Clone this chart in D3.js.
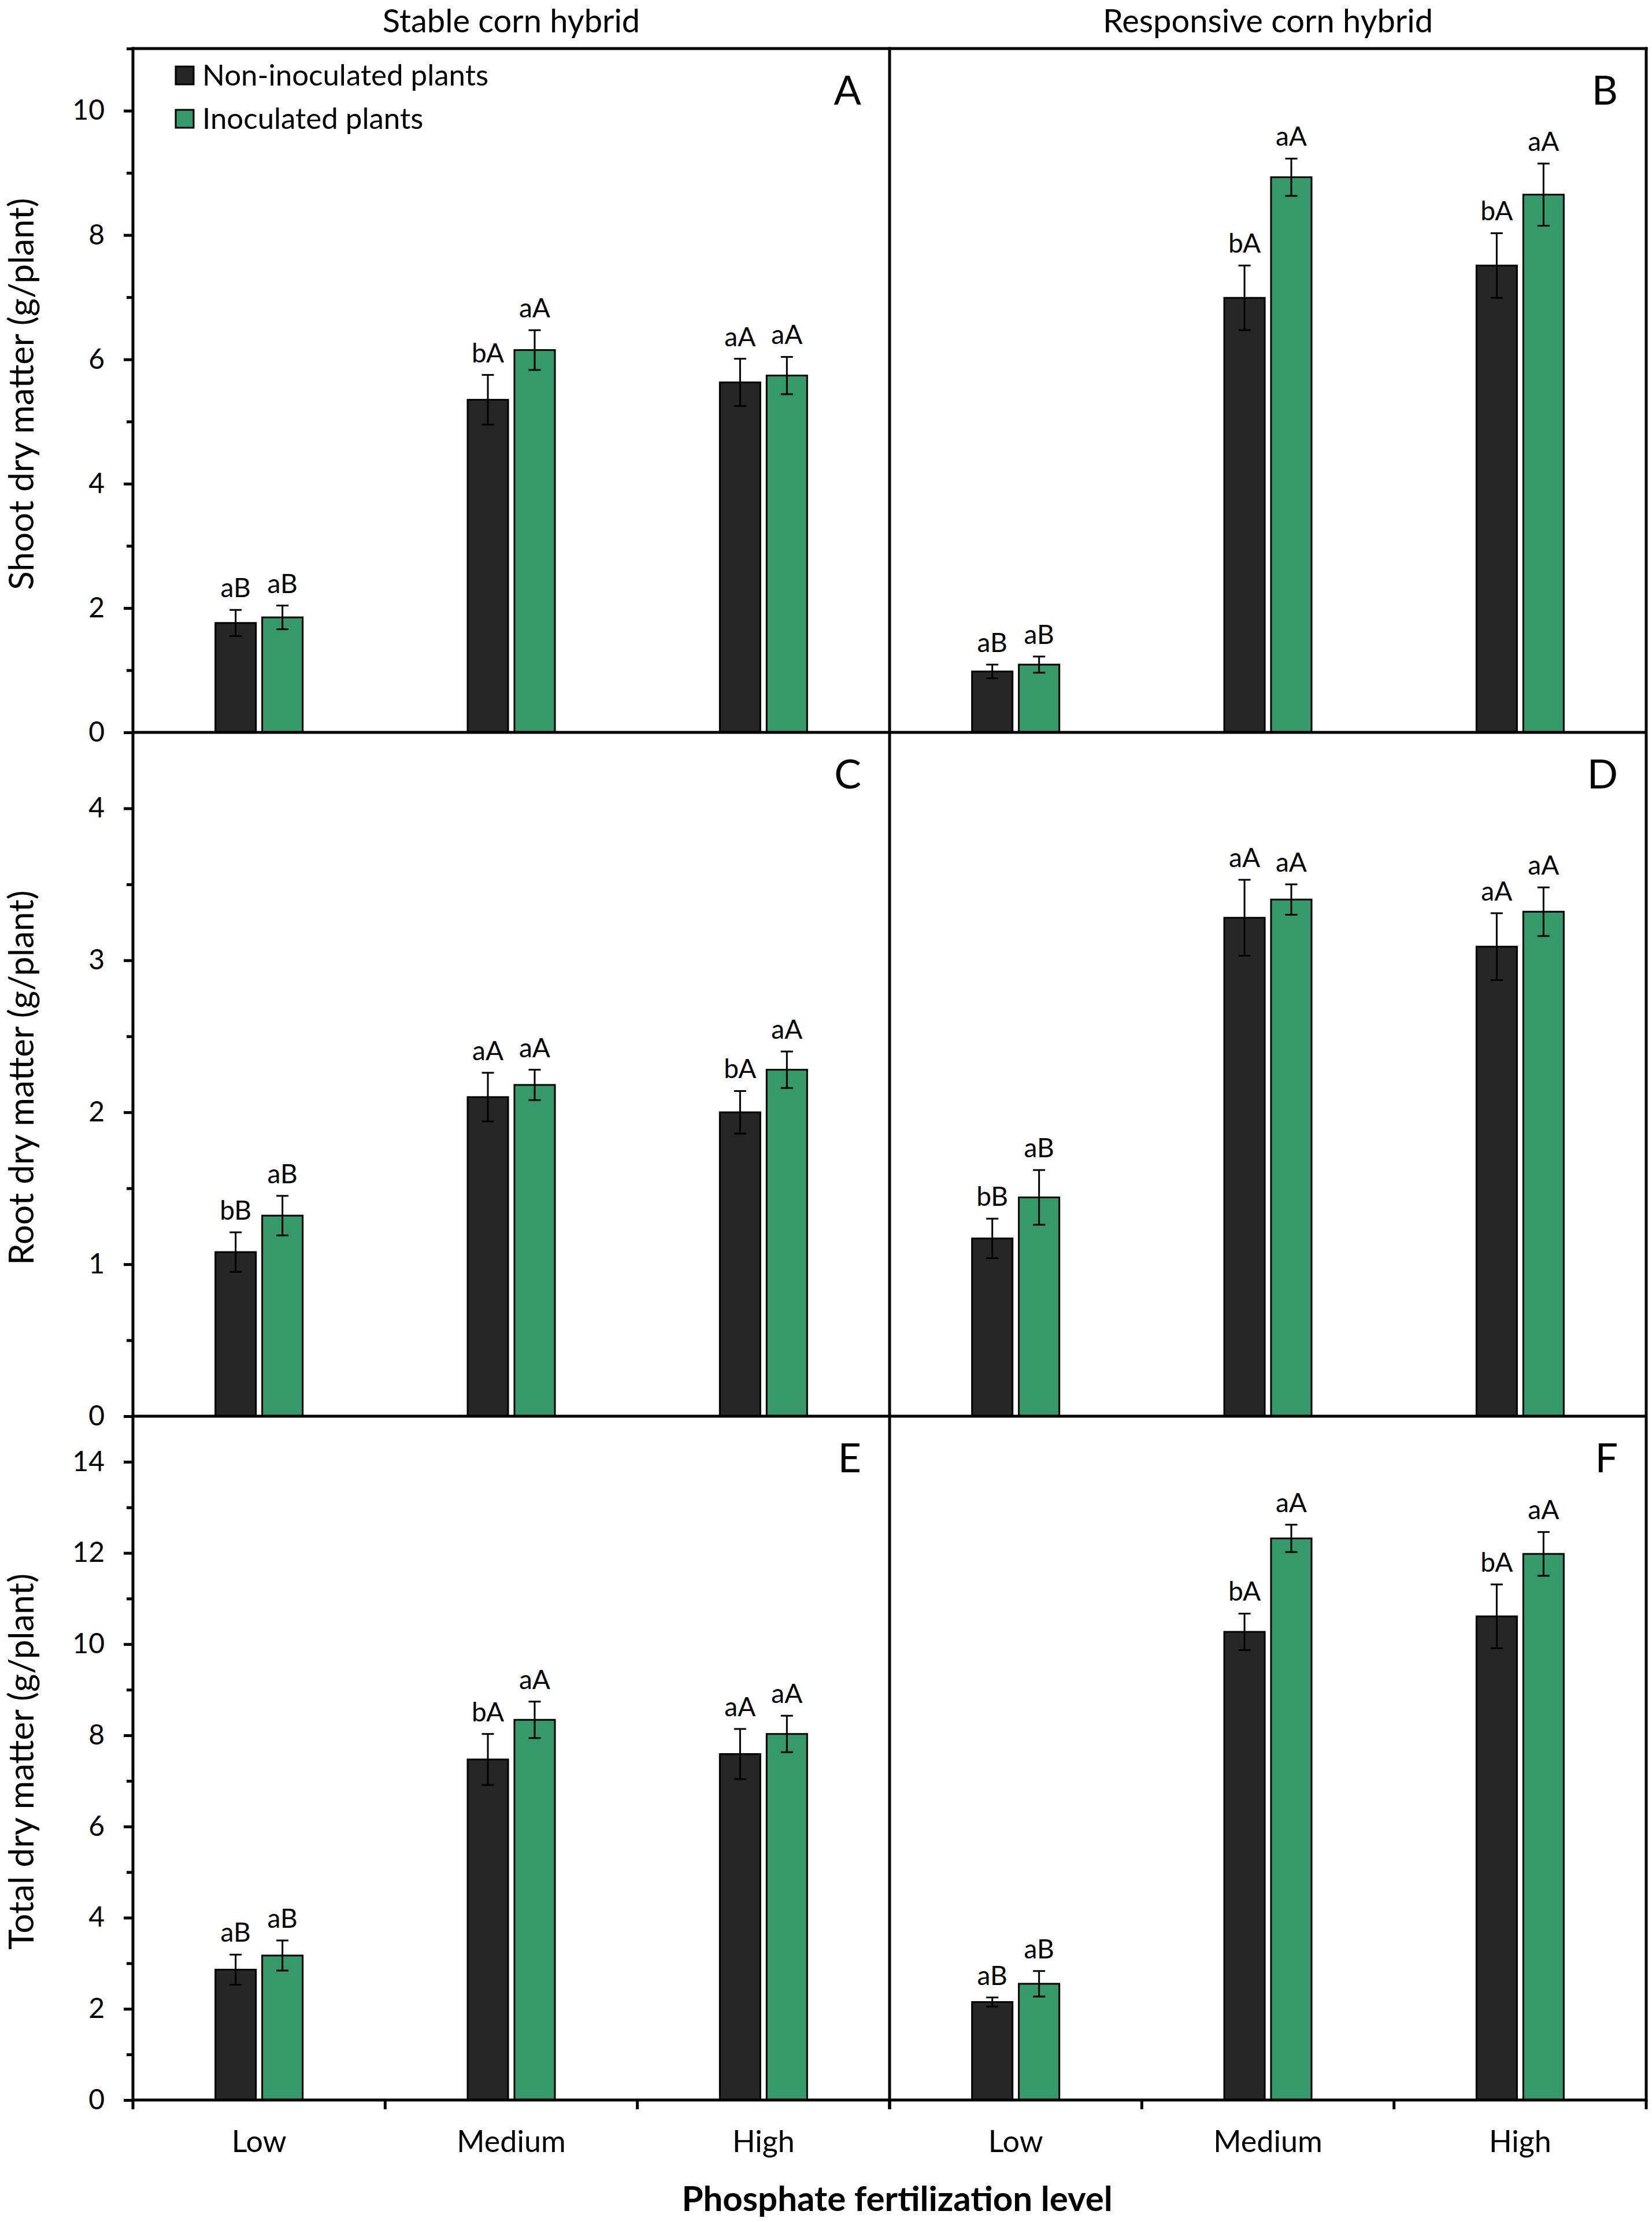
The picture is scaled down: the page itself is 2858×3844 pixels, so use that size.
<!DOCTYPE html>
<html>
<head>
<meta charset="utf-8">
<script src="https://cdn.jsdelivr.net/npm/d3@7"></script>
<style>
    body { margin: 0; background: #ffffff; }
    text { font-family: "Lato", "Open Sans", sans-serif; fill: #000000; }
</style>
</head>
<body>
<script>
// Chart data
const hybrids = ["Stable corn hybrid", "Responsive corn hybrid"];
const measures = ["Shoot dry matter (g/plant)", "Root dry matter (g/plant)", "Total dry matter (g/plant)"];
const levels = ["Low", "Medium", "High"];
const series = ["Non-inoculated plants", "Inoculated plants"];
const panelLetters = [["A", "B"], ["C", "D"], ["E", "F"]];
const yMax = [11, 4.5, 15];
const yMajorTicks = [[0, 2, 4, 6, 8, 10], [0, 1, 2, 3, 4], [0, 2, 4, 6, 8, 10, 12, 14]];
const yMinorTicks = [[1, 3, 5, 7, 9, 11], [0.5, 1.5, 2.5, 3.5, 4.5], [1, 3, 5, 7, 9, 11, 13, 15]];
const xAxisTitle = "Phosphate fertilization level";

// Means per panel: [non-inoculated, inoculated] x [Low, Medium, High]
const meansA = [[1.76, 5.35, 5.63], [1.85, 6.15, 5.74]];
const meansB = [[0.98, 6.99, 7.51], [1.09, 8.93, 8.65]];
const meansC = [[1.08, 2.10, 2.00], [1.32, 2.18, 2.28]];
const meansD = [[1.17, 3.28, 3.09], [1.44, 3.40, 3.32]];
const meansE = [[2.86, 7.47, 7.59], [3.17, 8.34, 8.03]];
const meansF = [[2.15, 10.27, 10.61], [2.55, 12.32, 11.98]];

// Standard errors
const seA = [[0.21, 0.40, 0.38], [0.19, 0.32, 0.30]];
const seB = [[0.11, 0.52, 0.52], [0.13, 0.30, 0.50]];
const seC = [[0.13, 0.16, 0.14], [0.13, 0.10, 0.12]];
const seD = [[0.13, 0.25, 0.22], [0.18, 0.10, 0.16]];
const seE = [[0.33, 0.56, 0.55], [0.33, 0.40, 0.40]];
const seF = [[0.10, 0.40, 0.70], [0.28, 0.30, 0.48]];

// Significance letters
const lettersA = [["aB", "bA", "aA"], ["aB", "aA", "aA"]];
const lettersB = [["aB", "bA", "bA"], ["aB", "aA", "aA"]];
const lettersC = [["bB", "aA", "bA"], ["aB", "aA", "aA"]];
const lettersD = [["bB", "aA", "aA"], ["aB", "aA", "aA"]];
const lettersE = [["aB", "bA", "aA"], ["aB", "aA", "aA"]];
const lettersF = [["aB", "bA", "bA"], ["aB", "aA", "aA"]];

const panelMeans = [[meansA, meansB], [meansC, meansD], [meansE, meansF]];
const panelSe = [[seA, seB], [seC, seD], [seE, seF]];
const panelLettersText = [[lettersA, lettersB], [lettersC, lettersD], [lettersE, lettersF]];

const colors = ["#262626", "#35996a"];

const w = 2858;
const h = 3844;
const plot = { left: 230, right: 2848, top: 84, bottom: 3633 };
const groupWidth = 153;

// Create SVG Container
const svg = d3
    .select("body")
    .append("svg")
    .attr("width", w)
    .attr("height", h);

svg.append("rect")
    .attr("width", w)
    .attr("height", h)
    .attr("fill", "#ffffff");

// Panel scales
const panelX = d3.scaleBand().domain(hybrids).range([plot.left, plot.right]);
const panelY = d3.scaleBand().domain(measures).range([plot.top, plot.bottom]);
const panelW = panelX.bandwidth();
const panelH = panelY.bandwidth();

const x1 = d3
    .scaleBand()
    .domain(series)
    .range([0, groupWidth])
    .paddingInner(0.11);

// Column titles
svg.selectAll(".col-title")
    .data(hybrids)
    .enter()
    .append("text")
    .attr("class", "col-title")
    .attr("x", d => panelX(d) + panelW / 2)
    .attr("y", 56)
    .attr("text-anchor", "middle")
    .style("font-size", "56px")
    .text(d => d);

measures.forEach((measure, r) => {
    const top = panelY(measure);
    const y = d3
        .scaleLinear()
        .domain([0, yMax[r]])
        .range([top + panelH, top]);

    // Y axis title
    svg.append("text")
        .attr("transform", `translate(58, ${top + panelH / 2 + 6}) rotate(-90)`)
        .attr("text-anchor", "middle")
        .style("font-size", "60px")
        .text(measure);

    // Major ticks with labels
    const yAxisMajor = svg.append("g")
        .attr("transform", `translate(${plot.left}, 0)`)
        .call(d3.axisLeft(y)
            .tickValues(yMajorTicks[r])
            .tickSize(16)
            .tickPadding(33)
            .tickFormat(d3.format("d")));
    yAxisMajor.select(".domain").remove();
    yAxisMajor.selectAll("line").attr("stroke", "#000").attr("stroke-width", 5);
    yAxisMajor.selectAll("text")
        .style("font-size", "48px")
        .style("font-family", "Lato, sans-serif")
        .attr("fill", "#000");

    // Minor ticks
    const yAxisMinor = svg.append("g")
        .attr("transform", `translate(${plot.left}, 0)`)
        .call(d3.axisLeft(y)
            .tickValues(yMinorTicks[r])
            .tickSize(11)
            .tickFormat(""));
    yAxisMinor.select(".domain").remove();
    yAxisMinor.selectAll("line").attr("stroke", "#000").attr("stroke-width", 5);

    hybrids.forEach((hybrid, c) => {
        const left = panelX(hybrid);
        const x0 = d3
            .scaleBand()
            .domain(levels)
            .range([left, left + panelW]);
        const offset = (x0.bandwidth() - groupWidth) / 2;

        const means = panelMeans[r][c];
        const ses = panelSe[r][c];
        const letters = panelLettersText[r][c];

        const rows = [];
        series.forEach((s, si) => {
            levels.forEach((lv, li) => {
                rows.push({
                    series: s,
                    si: si,
                    level: lv,
                    mean: means[si][li],
                    se: ses[si][li],
                    letter: letters[si][li]
                });
            });
        });

        const cx = d => x0(d.level) + offset + x1(d.series) + x1.bandwidth() / 2;

        // Bars
        svg.append("g")
            .selectAll("rect")
            .data(rows)
            .enter()
            .append("rect")
            .attr("x", d => x0(d.level) + offset + x1(d.series) + 1)
            .attr("y", d => y(d.mean))
            .attr("width", x1.bandwidth() - 2)
            .attr("height", d => y(0) - y(d.mean))
            .attr("fill", d => colors[d.si])
            .attr("stroke", "#000")
            .attr("stroke-width", 3);

        // Error bars
        const err = svg.append("g")
            .attr("stroke", "#000")
            .attr("stroke-width", 3);

        err.selectAll(".stem")
            .data(rows)
            .enter()
            .append("line")
            .attr("x1", cx)
            .attr("x2", cx)
            .attr("y1", d => y(d.mean - d.se))
            .attr("y2", d => y(d.mean + d.se));

        err.selectAll(".cap-top")
            .data(rows)
            .enter()
            .append("line")
            .attr("x1", d => cx(d) - 10.5)
            .attr("x2", d => cx(d) + 10.5)
            .attr("y1", d => y(d.mean + d.se))
            .attr("y2", d => y(d.mean + d.se));

        err.selectAll(".cap-bottom")
            .data(rows)
            .enter()
            .append("line")
            .attr("x1", d => cx(d) - 10.5)
            .attr("x2", d => cx(d) + 10.5)
            .attr("y1", d => y(d.mean - d.se))
            .attr("y2", d => y(d.mean - d.se));

        // Letters above bars
        svg.append("g")
            .selectAll("text")
            .data(rows)
            .enter()
            .append("text")
            .attr("x", cx)
            .attr("y", d => y(d.mean + d.se) - 22)
            .attr("text-anchor", "middle")
            .style("font-size", "46px")
            .text(d => d.letter);

        // Panel letter
        svg.append("text")
            .attr("x", left + panelW - 49)
            .attr("y", top + 97)
            .attr("text-anchor", "end")
            .style("font-size", "70px")
            .text(panelLetters[r][c]);

        // X axis (bottom row only)
        if (r === measures.length - 1) {
            const xAxis = svg.append("g")
                .attr("transform", `translate(0, ${plot.bottom})`)
                .call(d3.axisBottom(x0).tickSize(0).tickPadding(53));
            xAxis.select(".domain").remove();
            xAxis.selectAll("text")
                .style("font-size", "52px")
                .style("font-family", "Lato, sans-serif")
                .attr("fill", "#000");

            // Boundary ticks between levels
            const bounds = levels.map(lv => x0(lv)).concat([left + panelW]);
            svg.append("g")
                .selectAll("line")
                .data(bounds)
                .enter()
                .append("line")
                .attr("x1", d => d)
                .attr("x2", d => d)
                .attr("y1", plot.bottom)
                .attr("y2", plot.bottom + 16)
                .attr("stroke", "#000")
                .attr("stroke-width", 5);
        }
    });

    // Zero line of this row
    svg.append("line")
        .attr("x1", plot.left)
        .attr("x2", plot.right)
        .attr("y1", y(0))
        .attr("y2", y(0))
        .attr("stroke", "#000")
        .attr("stroke-width", 5);
});

// Frame: top line, left axis, middle divider, right border
const frame = svg.append("g")
    .attr("stroke", "#000")
    .attr("stroke-width", 5)
    .attr("stroke-linecap", "square");

frame.append("line")
    .attr("x1", plot.left).attr("x2", plot.right)
    .attr("y1", plot.top).attr("y2", plot.top);

hybrids.concat(["end"]).forEach((hyb, i) => {
    const xPos = i < hybrids.length ? panelX(hyb) : plot.right;
    frame.append("line")
        .attr("x1", xPos).attr("x2", xPos)
        .attr("y1", plot.top).attr("y2", plot.bottom);
});

// Legend
const legend = svg.append("g")
    .attr("transform", `translate(${plot.left + 74}, 115)`);

legend.selectAll("rect")
    .data(series)
    .enter()
    .append("rect")
    .attr("x", 0)
    .attr("y", (d, i) => i * 75)
    .attr("width", 31)
    .attr("height", 31)
    .attr("fill", (d, i) => colors[i])
    .attr("stroke", "#000")
    .attr("stroke-width", 3);

legend.selectAll("text")
    .data(series)
    .enter()
    .append("text")
    .attr("x", 46)
    .attr("y", (d, i) => i * 75 + 33)
    .style("font-size", "51px")
    .text(d => d);

// X axis title
svg.append("text")
    .attr("x", 1552)
    .attr("y", 3825)
    .attr("text-anchor", "middle")
    .style("font-size", "60px")
    .style("font-weight", "bold")
    .text(xAxisTitle);
</script>
</body>
</html>
